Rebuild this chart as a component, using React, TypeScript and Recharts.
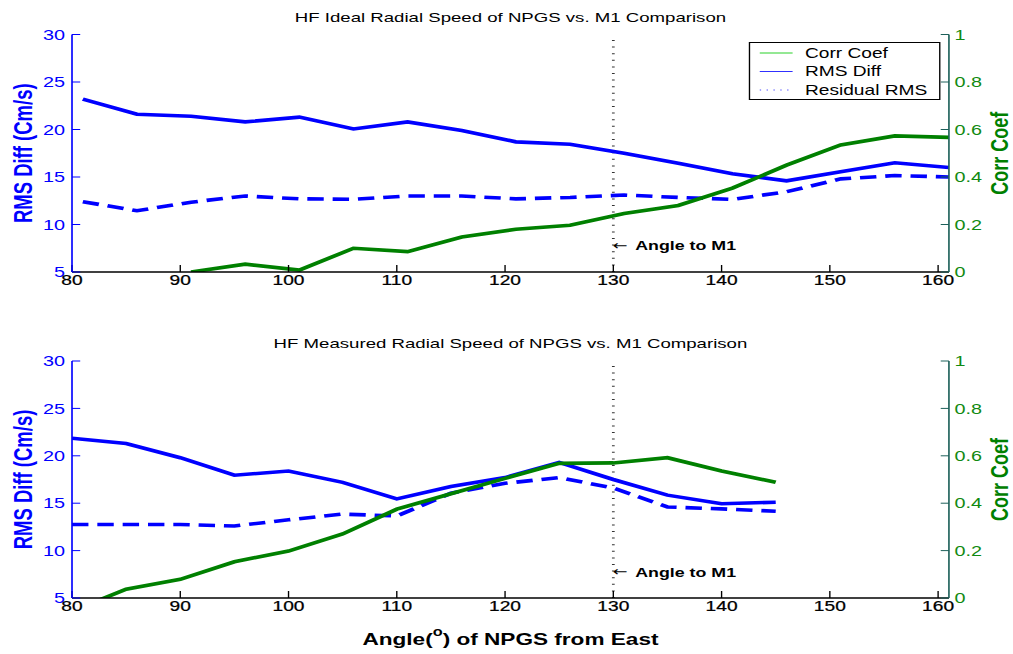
import React from 'react';
import { LineChart, Line, XAxis, YAxis, ReferenceLine, ReferenceDot, Legend } from 'recharts';

// ---- data ----
const topAngles = [81, 86, 91, 96, 101, 106, 111, 116, 121, 126, 131, 136, 141, 146, 151, 156, 161];
const topRms = [23.2, 21.6, 21.4, 20.8, 21.3, 20.05, 20.8, 19.9, 18.7, 18.45, 17.5, 16.45, 15.35, 14.6, 15.55, 16.5, 16.0];
const topResid = [12.4, 11.45, 12.35, 13.0, 12.7, 12.65, 13.0, 13.0, 12.7, 12.85, 13.1, 12.85, 12.65, 13.45, 14.8, 15.15, 15.0];
const topCorr = [null, null, 0.0, 0.033, 0.008, 0.1, 0.086, 0.147, 0.18, 0.197, 0.246, 0.28, 0.353, 0.45, 0.535, 0.573, 0.567];

const botAngles = [80, 85, 90, 95, 100, 105, 110, 115, 120, 125, 130, 135, 140, 145];
const botRms = [21.85, 21.3, 19.8, 17.95, 18.4, 17.2, 15.45, 16.75, 17.7, 19.3, 17.5, 15.85, 14.95, 15.1];
const botResid = [12.75, 12.75, 12.75, 12.6, 13.25, 13.85, 13.65, 16.05, 17.1, 17.7, 16.6, 14.6, 14.4, 14.15];
const botCorr = [-0.055, 0.037, 0.079, 0.153, 0.198, 0.27, 0.375, 0.44, 0.505, 0.568, 0.57, 0.592, 0.536, 0.488];

const xTicks = [80, 90, 100, 110, 120, 130, 140, 150, 160];
const leftTicks = [5, 10, 15, 20, 25, 30];
const rightTicks = [0, 0.2, 0.4, 0.6, 0.8, 1];
const angleToM1 = 130;

const titles = [
  'HF Ideal Radial Speed of NPGS vs. M1 Comparison',
  'HF Measured Radial Speed of NPGS vs. M1 Comparison',
];

const legendItems = [
  { label: 'Corr Coef', color: '#2ad22a', dash: undefined as string | undefined },
  { label: 'RMS Diff', color: '#3030ff', dash: undefined as string | undefined },
  { label: 'Residual RMS', color: '#5050ff', dash: '1 4' },
];

const build = (angles: number[], rms: number[], resid: number[], corr: (number | null)[]) =>
  angles.map((a, i) => ({ angle: a, rms: rms[i], resid: resid[i], corr: corr[i] }));

const topData = build(topAngles, topRms, topResid, topCorr);
const botData = build(botAngles, botRms, botResid, botCorr);

// ---- styles ----
const FONT = '"Liberation Sans", Arial, Helvetica, sans-serif';
const BLUE = '#0000ff';
const GREEN = '#008000';
const RIGHT_AXIS = '#1d605a';
const INNER_W = 740;
const STRETCH = 1013 / INNER_W;
const LEFT_W = 52.6;
const RIGHT_W = 46.8;

const LegendBox = () => (
  <div
    style={{
      width: 139.5,
      height: 58,
      boxSizing: 'border-box',
      border: '1px solid #000',
      background: '#fff',
    }}
  >
    <svg width={137.5} height={56} style={{ display: 'block' }}>
      {legendItems.map((it, i) => {
        const cy = 10 + i * 18.5;
        return (
          <g key={it.label}>
            <line x1={7} x2={31} y1={cy} y2={cy} stroke={it.color} strokeWidth={1} strokeDasharray={it.dash} />
            <text x={40} y={cy} dominantBaseline="central" fontFamily={FONT} fontSize={14} fill="#000">
              {it.label}
            </text>
          </g>
        );
      })}
    </svg>
  </div>
);

const AngleLabel = (props: any) => {
  const { cx, cy } = props;
  return (
    <g>
      <text x={cx - 0.5} y={cy} dominantBaseline="central" fontFamily='"DejaVu Sans", sans-serif' fontSize={13} fill="#000">
        ←
      </text>
      <text x={cx + 16} y={cy} dominantBaseline="central" fontFamily={FONT} fontSize={13} fontWeight="bold" fill="#000">
        Angle to M1
      </text>
    </g>
  );
};

const LeftLabel = (props: any) => {
  const vb = props.viewBox || {};
  const cx = 17;
  const cy = vb.y + vb.height / 2;
  return (
    <text
      x={cx}
      y={cy}
      transform={`rotate(-90, ${cx}, ${cy})`}
      textAnchor="middle"
      dominantBaseline="central"
      fontFamily={FONT}
      fontSize={18.5}
      fontWeight="bold"
      fill={BLUE}
    >
      RMS Diff (Cm/s)
    </text>
  );
};

const RightLabel = (props: any) => {
  const vb = props.viewBox || {};
  const cx = 729.8;
  const cy = vb.y + vb.height / 2;
  return (
    <text
      x={cx}
      y={cy}
      transform={`rotate(-90, ${cx}, ${cy})`}
      textAnchor="middle"
      dominantBaseline="central"
      fontFamily={FONT}
      fontSize={18}
      fontWeight="bold"
      fill={GREEN}
    >
      Corr Coef
    </text>
  );
};

type PanelProps = { data: any[]; height: number; top: number; xHeight: number; withLegend: boolean };

const Panel = ({ data, height, top, xHeight, withLegend }: PanelProps) => (
  <div style={{ position: 'absolute', left: 0, top }}>
    <LineChart width={INNER_W} height={height} data={data} margin={{ top: top === 0 ? 34.5 : 34, right: 0, bottom: 0, left: 0 }}>
      <XAxis
        xAxisId="b"
        dataKey="angle"
        type="number"
        domain={[80, 161]}
        ticks={xTicks}
        interval={0}
        allowDataOverflow
        height={xHeight}
        tickSize={-7}
        tickMargin={10}
        axisLine={{ stroke: '#000', strokeWidth: 1.4 }}
        tickLine={{ stroke: '#000' }}
        tick={{ fill: '#000', fontSize: 14, fontFamily: FONT, stroke: '#000', strokeWidth: 0.25 }}
      />
      <XAxis
        xAxisId="t"
        orientation="top"
        dataKey="angle"
        type="number"
        domain={[80, 161]}
        ticks={xTicks}
        interval={0}
        allowDataOverflow
        height={0}
        tickSize={-7}
        tickFormatter={() => ''}
        axisLine={{ stroke: '#000', strokeWidth: 1 }}
        tickLine={{ stroke: '#000' }}
      />
      <YAxis
        yAxisId="left"
        type="number"
        domain={[5, 30]}
        ticks={leftTicks}
        interval={0}
        allowDataOverflow
        width={LEFT_W}
        tickSize={-6}
        tickMargin={11}
        axisLine={{ stroke: BLUE, strokeWidth: 1.2 }}
        tickLine={{ stroke: BLUE }}
        tick={{ fill: BLUE, fontSize: 14.5, fontFamily: FONT }}
        label={<LeftLabel />}
      />
      <YAxis
        yAxisId="right"
        orientation="right"
        type="number"
        domain={[0, 1]}
        ticks={rightTicks}
        interval={0}
        allowDataOverflow
        width={RIGHT_W}
        tickSize={-6}
        tickMargin={10}
        tickFormatter={(v: number) => String(v)}
        axisLine={{ stroke: RIGHT_AXIS, strokeWidth: 1.2 }}
        tickLine={{ stroke: RIGHT_AXIS }}
        tick={{ fill: '#118a11', fontSize: 14.5, fontFamily: FONT }}
        label={<RightLabel />}
      />
      <ReferenceLine
        xAxisId="b"
        yAxisId="left"
        x={angleToM1}
        stroke="#333"
        strokeWidth={2}
        strokeDasharray="1 5.6"
      />
      <Line
        xAxisId="b"
        yAxisId="left"
        dataKey="rms"
        name="RMS Diff"
        stroke={BLUE}
        strokeWidth={3.6}
        dot={false}
        activeDot={false}
        isAnimationActive={false}
      />
      <Line
        xAxisId="b"
        yAxisId="left"
        dataKey="resid"
        name="Residual RMS"
        stroke={BLUE}
        strokeWidth={3.6}
        strokeDasharray="12 6.5"
        dot={false}
        activeDot={false}
        isAnimationActive={false}
      />
      <Line
        xAxisId="b"
        yAxisId="right"
        dataKey="corr"
        name="Corr Coef"
        stroke={GREEN}
        strokeWidth={3.6}
        dot={false}
        activeDot={false}
        isAnimationActive={false}
      />
      <ReferenceDot
        xAxisId="b"
        yAxisId="right"
        x={angleToM1}
        y={0.11}
        r={1}
        shape={(p: any) => <AngleLabel {...p} />}
      />
      {withLegend && (
        <Legend
          layout="vertical"
          align="center"
          verticalAlign="middle"
          content={() => <LegendBox />}
          wrapperStyle={{ position: 'absolute', left: 547, top: 42, width: 139.5, height: 58 }}
        />
      )}
    </LineChart>
  </div>
);

const titleStyle = (top: number): React.CSSProperties => ({
  position: 'absolute',
  left: LEFT_W,
  width: INNER_W - LEFT_W - RIGHT_W,
  top,
  textAlign: 'center',
  fontFamily: FONT,
  fontSize: 13.6,
  lineHeight: '16px',
  color: '#000',
  whiteSpace: 'nowrap',
});

export default function App() {
  return (
    <div style={{ position: 'absolute', left: 0, top: 0, width: 1013, height: 654, overflow: 'hidden', background: '#fff' }}>
      <div
        style={{
          position: 'relative',
          width: INNER_W,
          height: 654,
          transform: `scaleX(${STRETCH})`,
          transformOrigin: '0 0',
        }}
      >
        <Panel data={topData} height={320} top={0} xHeight={48} withLegend />
        <Panel data={botData} height={327} top={327} xHeight={56} withLegend={false} />
        <div style={titleStyle(9.5)}>{titles[0]}</div>
        <div style={titleStyle(335.5)}>{titles[1]}</div>
        <div
          style={{
            position: 'absolute',
            left: LEFT_W,
            width: INNER_W - LEFT_W - RIGHT_W,
            top: 629,
            textAlign: 'center',
            fontFamily: FONT,
            fontSize: 16.5,
            fontWeight: 'bold',
            lineHeight: '20px',
            color: '#000',
            whiteSpace: 'nowrap',
          }}
        >
          Angle(<sup style={{ fontSize: '0.72em', lineHeight: 0, verticalAlign: '0.75em' }}>o</sup>) of NPGS from East
        </div>
      </div>
    </div>
  );
}
